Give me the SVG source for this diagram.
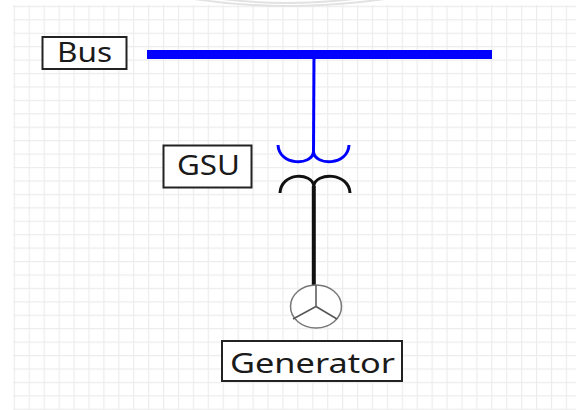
<svg xmlns="http://www.w3.org/2000/svg" width="576" height="410" viewBox="0 0 576 410">
<style>
.box{fill:#fff;stroke:#222;stroke-width:2}
.lbl{font-family:"Noto Sans","Open Sans",sans-serif;font-size:27px;fill:#1a1a1a}
.grid{stroke:#ececec;stroke-width:1.3}
</style>
<defs>
<pattern id="g" x="13.8" y="5.8" width="14.92" height="13.43" patternUnits="userSpaceOnUse">
<path d="M0.5,0 V13.43 M0,0.5 H14.92" class="grid" fill="none"/>
</pattern>
</defs>
<rect width="576" height="410" fill="#fff"/>
<rect x="13" y="5" width="563" height="405" fill="url(#g)"/>
<g id="logo" fill="none" stroke="#e2e2e2" stroke-width="2">
<path d="M188,-2 Q285,14 392,-2"/>
<path d="M215,-2 Q285,8 362,-2"/>
</g>
<g id="connectors" fill="none" stroke-linecap="butt">
<line x1="314" y1="55" x2="313.5" y2="152" stroke="#0000ff" stroke-width="3"/>
<line x1="313.8" y1="186" x2="313.8" y2="286" stroke="#111" stroke-width="4"/>
</g>
<g id="bus">
<rect x="147" y="50" width="345" height="9" fill="#0000ff"/>
<rect class="box" x="42.5" y="37" width="84" height="32"/>
<text class="lbl" x="57" y="62" textLength="55" lengthAdjust="spacingAndGlyphs">Bus</text>
</g>
<g id="gsu">
<path d="M278,145 C279,166 312,166 313.5,152 C315,166 348,166 349,145" fill="none" stroke="#0000ff" stroke-width="3"/>
<path d="M280,193 C281,172 312,172 313.8,186 C315.5,172 349,172 350,193" fill="none" stroke="#111" stroke-width="3"/>
<rect class="box" x="163.5" y="145.5" width="88" height="42"/>
<text class="lbl" x="177" y="175" textLength="63" lengthAdjust="spacingAndGlyphs">GSU</text>
</g>
<g id="generator">
<ellipse cx="316" cy="306.5" rx="25.5" ry="21.5" fill="#fff" stroke="#777" stroke-width="1.5"/>
<path d="M316,285 V306.5 L293,319 M316,306.5 L337,319" fill="none" stroke="#555" stroke-width="1.5"/>
<rect class="box" x="222" y="341" width="180" height="40"/>
<text class="lbl" x="230" y="373" textLength="165" lengthAdjust="spacingAndGlyphs">Generator</text>
</g>
</svg>
